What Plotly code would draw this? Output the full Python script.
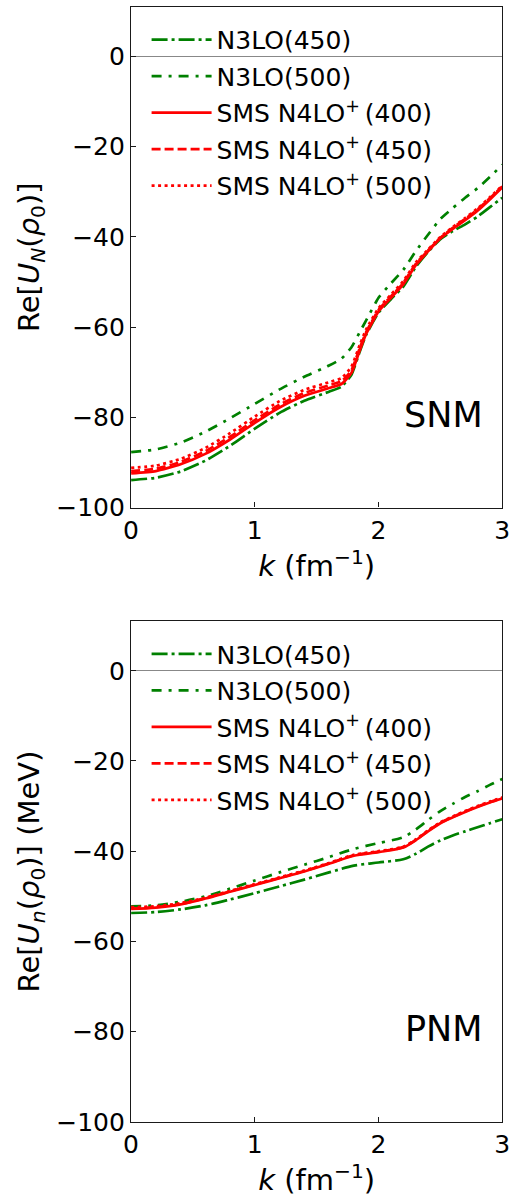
import plotly.graph_objects as go

# ---------------- data ----------------
K_SNM = [0, 0.2, 0.4, 0.6, 0.8, 1.0, 1.2, 1.4, 1.6, 1.7, 1.78, 1.85, 1.9, 2.0,
         2.1, 2.2, 2.3, 2.4, 2.5, 2.6, 2.7, 2.8, 2.9, 3.0]
SNM_N3LO_450 = [-93.9, -93.4, -92.0, -89.6, -86.3, -82.5, -79.0, -76.3, -74.3, -73.2,
                -70.6, -65.3, -61.7, -56.8, -53.8, -51.0, -46.7, -43.3, -40.5, -38.7,
                -37.2, -35.5, -33.4, -31.3]
SNM_N3LO_500 = [-87.7, -87.1, -85.6, -83.2, -80.2, -77.0, -73.8, -71.0, -68.5, -67.0,
                -64.5, -61.0, -58.5, -53.5, -50.3, -47.3, -43.2, -39.5, -36.0, -33.6,
                -31.3, -29.2, -26.7, -24.0]
SNM_SMS_400 = [-92.4, -91.9, -90.4, -88.1, -84.9, -81.2, -77.8, -75.2, -73.5, -72.6,
               -70.2, -65.0, -61.5, -56.5, -53.5, -50.5, -46.3, -43.2, -40.3, -38.2,
               -36.3, -34.2, -31.7, -29.0]
SNM_SMS_450 = [-91.9, -91.4, -89.9, -87.5, -84.3, -80.6, -77.2, -74.6, -72.9, -72.0,
               -69.6, -64.5, -61.1, -56.2, -53.2, -50.2, -46.0, -43.0, -40.2, -38.0,
               -36.0, -33.9, -31.4, -28.8]
SNM_SMS_500 = [-91.2, -90.7, -89.2, -86.8, -83.5, -79.8, -76.4, -73.9, -72.2, -71.3,
               -68.8, -63.8, -60.5, -55.8, -52.8, -49.8, -45.7, -42.8, -40.0, -37.8,
               -35.8, -33.7, -31.2, -28.6]

K_PNM = [0, 0.2, 0.4, 0.6, 0.8, 1.0, 1.2, 1.4, 1.6, 1.8, 2.0, 2.2, 2.3, 2.4, 2.5,
         2.6, 2.7, 2.8, 2.9, 3.0]
PNM_N3LO_450 = [-53.7, -53.5, -52.9, -52.0, -50.7, -49.3, -47.8, -46.3, -44.7, -43.2,
                -42.5, -41.8, -40.6, -39.0, -37.6, -36.5, -35.6, -34.7, -33.8, -32.9]
PNM_N3LO_500 = [-52.2, -52.0, -51.2, -50.0, -48.3, -46.5, -44.7, -43.0, -41.3, -39.5,
                -38.2, -36.9, -35.2, -33.1, -31.1, -29.5, -28.0, -26.7, -25.3, -24.0]
PNM_SMS_400 = [-52.8, -52.5, -51.8, -50.5, -49.0, -47.5, -46.0, -44.5, -42.8, -41.0,
               -40.2, -39.2, -37.6, -35.6, -33.8, -32.5, -31.3, -30.2, -29.2, -28.3]
PNM_SMS_450 = [-52.7, -52.4, -51.7, -50.4, -48.9, -47.4, -45.9, -44.4, -42.7, -40.9,
               -40.1, -39.1, -37.5, -35.5, -33.7, -32.4, -31.2, -30.1, -29.1, -28.2]
PNM_SMS_500 = [-52.4, -52.2, -51.5, -50.3, -48.8, -47.3, -45.8, -44.3, -42.6, -40.8,
               -40.0, -39.0, -37.4, -35.4, -33.6, -32.3, -31.1, -30.0, -29.0, -28.1]

NAMES = ["N3LO(450)", "N3LO(500)", "SMS N4LO<sup>+</sup>\u2009(400)",
         "SMS N4LO<sup>+</sup>\u2009(450)", "SMS N4LO<sup>+</sup>\u2009(500)"]
X_TICKS = [0, 1, 2, 3]
Y_TICKS = [-100, -80, -60, -40, -20, 0]

# ---------------- styling ----------------
GREEN = "#008000"
RED = "#ff0000"
LW = 2.7
STYLES = [
    dict(color=GREEN, width=LW, dash="16px,4px,3px,4px"),
    dict(color=GREEN, width=LW, dash="10px,7px,3px,7px"),
    dict(color=RED, width=LW, dash="solid"),
    dict(color=RED, width=LW, dash="9px,4px"),
    dict(color=RED, width=LW, dash="3px,3.5px"),
]
FONT = "DejaVu Sans"
W, H = 518, 1203

fig = go.Figure()

snm = [SNM_N3LO_450, SNM_N3LO_500, SNM_SMS_400, SNM_SMS_450, SNM_SMS_500]
pnm = [PNM_N3LO_450, PNM_N3LO_500, PNM_SMS_400, PNM_SMS_450, PNM_SMS_500]

for i, (name, ys) in enumerate(zip(NAMES, snm)):
    fig.add_trace(go.Scatter(x=K_SNM, y=ys, mode="lines", name=name,
                             line=dict(**STYLES[i], shape="spline", smoothing=0.5),
                             xaxis="x", yaxis="y", legend="legend",
                             legendgroup=f"a{i}"))
for i, (name, ys) in enumerate(zip(NAMES, pnm)):
    fig.add_trace(go.Scatter(x=K_PNM, y=ys, mode="lines", name=name,
                             line=dict(**STYLES[i], shape="spline", smoothing=0.8),
                             xaxis="x2", yaxis="y2", legend="legend2",
                             legendgroup=f"b{i}"))


def px_x(p):
    return p / W


def px_y(p):
    return 1 - p / H


axis_common = dict(showline=True, mirror=True, linecolor="#1a1a1a", linewidth=1.3,
                   ticks="inside", ticklen=5, tickwidth=1.3, tickcolor="#1a1a1a",
                   showgrid=False, tickfont=dict(family=FONT, size=25, color="black"))

xdom = [px_x(127), px_x(510)]
top_dom = [px_y(514), px_y(7)]
bot_dom = [px_y(1136), px_y(629)]

TITLE_SIZE = 29
xtitle = dict(text="<i>k</i> (fm<sup>−1</sup>)",
              font=dict(family=FONT, size=TITLE_SIZE, color="black"), standoff=8)

legend_common = dict(xanchor="left", yanchor="top", bgcolor="rgba(0,0,0,0)",
                     borderwidth=0, traceorder="grouped", tracegroupgap=1,
                     itemwidth=60, font=dict(family=FONT, size=25, color="black"))

fig.update_layout(
    width=W, height=H,
    margin=dict(l=0, r=0, t=0, b=0),
    paper_bgcolor="white", plot_bgcolor="white",
    font=dict(family=FONT, color="black"),
    xaxis=dict(domain=xdom, range=[0, 3], tickvals=X_TICKS, anchor="y",
               title=xtitle, zeroline=False, **axis_common),
    yaxis=dict(domain=top_dom, range=[-100, 11], tickvals=Y_TICKS, anchor="x",
               zeroline=True, zerolinecolor="#888888", zerolinewidth=1.3,
               title=dict(text="Re[<i>U<sub>N</sub></i>(<i>ρ</i><sub>0</sub>)]",
                          font=dict(family=FONT, size=TITLE_SIZE, color="black"), standoff=8),
               **axis_common),
    xaxis2=dict(domain=xdom, range=[0, 3], tickvals=X_TICKS, anchor="y2",
                title=xtitle, zeroline=False, **axis_common),
    yaxis2=dict(domain=bot_dom, range=[-100, 11], tickvals=Y_TICKS, anchor="x2",
                zeroline=True, zerolinecolor="#888888", zerolinewidth=1.3,
                title=dict(text="Re[<i>U<sub>n</sub></i>(<i>ρ</i><sub>0</sub>)] (MeV)",
                           font=dict(family=FONT, size=TITLE_SIZE, color="black"), standoff=8),
                **axis_common),
    legend=dict(x=px_x(143), y=px_y(17), **legend_common),
    legend2=dict(x=px_x(143), y=px_y(639), **legend_common),
    annotations=[
        dict(text="SNM", xref="x domain", yref="y domain", x=0.843, y=0.185,
             showarrow=False, font=dict(family=FONT, size=35, color="black"),
             xanchor="center", yanchor="middle"),
        dict(text="PNM", xref="x2 domain", yref="y2 domain", x=0.843, y=0.185,
             showarrow=False, font=dict(family=FONT, size=35, color="black"),
             xanchor="center", yanchor="middle"),
    ],
)

fig.write_html("out.html")
